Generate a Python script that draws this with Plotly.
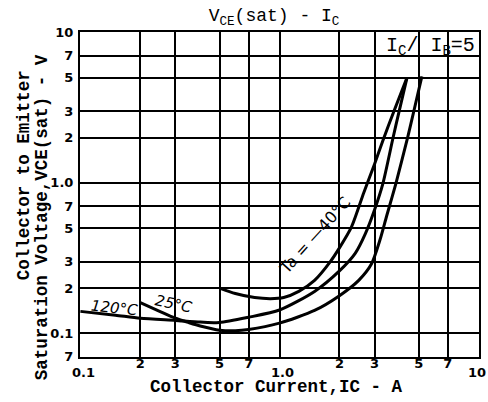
import math
import plotly.graph_objects as go

# ---- data ----
ic_m40 = [0.5, 0.6, 0.75, 0.9, 1.05, 1.25, 1.5, 1.8, 2.0, 2.3, 2.65, 3.0, 3.3, 3.76, 4.37]
vce_m40 = [0.2, 0.184, 0.173, 0.170, 0.173, 0.19, 0.225, 0.30, 0.37, 0.51, 0.86, 1.33, 1.9, 3.0, 5.0]

ic_120 = [0.1, 0.15, 0.2, 0.3, 0.4, 0.5, 0.7, 1.0, 1.5, 2.0, 2.4, 2.7, 3.0, 3.3, 3.72, 3.98, 4.37]
vce_120 = [0.14, 0.132, 0.126, 0.122, 0.119, 0.118, 0.128, 0.143, 0.19, 0.26, 0.34, 0.46, 0.66, 0.98, 2.0, 2.95, 5.0]

ic_25 = [0.2, 0.25, 0.3, 0.35, 0.4, 0.5, 0.6, 0.7, 1.0, 1.5, 2.0, 2.5, 2.9, 3.2, 3.45, 3.85, 4.4, 4.73, 5.19]
vce_25 = [0.16, 0.14, 0.126, 0.118, 0.112, 0.105, 0.104, 0.106, 0.117, 0.142, 0.178, 0.225, 0.29, 0.42, 0.6, 1.0, 2.0, 3.0, 5.1]

x_tickvals = [0.2, 0.3, 0.5, 0.7, 2, 3, 5, 7]
x_ticktext = ["2", "3", "5", "7", "2", "3", "5", "7"]
x_decade_vals = [0.1, 1, 10]
x_decade_text = ["0.1", "1.0", "10"]
x_decade_shift = [3, 3, -2]
y_tickvals = [0.07, 0.1, 0.2, 0.3, 0.5, 0.7, 1, 2, 3, 5, 7, 10]
y_ticktext = ["7", "0.1", "2", "3", "5", "7", "1.0", "2", "3", "5", "7", "10"]

x_min, x_max = 0.1, 10
y_min, y_max = 0.07, 10

title_text = "V<sub>CE</sub>(sat) - I<sub>C</sub>"
x_title = "Collector Current,IC - A"
y_title_1 = "Collector to Emitter"
y_title_2 = "Saturation Voltage,VCE(sat) - V"
ratio_label = "I<sub>C</sub>/ I<sub>B</sub>=5"

# ---- figure ----
fig = go.Figure()
line_style = dict(color="black", width=3, shape="spline", smoothing=0.7)
for xs, ys, name in [(ic_m40, vce_m40, "-40°C"), (ic_120, vce_120, "120°C"), (ic_25, vce_25, "25°C")]:
    fig.add_trace(go.Scatter(x=xs, y=ys, mode="lines", line=line_style, name=name,
                             showlegend=False, hoverinfo="skip"))

lx0, lx1 = math.log10(x_min), math.log10(x_max)
ly0, ly1 = math.log10(y_min), math.log10(y_max)
pad = 0.002

tick_font = dict(family="DejaVu Sans", size=13, color="black", weight="bold")
fig.update_xaxes(type="log", range=[lx0 - pad, lx1 + pad], tickvals=x_tickvals, ticktext=x_ticktext,
                 showgrid=True, gridcolor="black", gridwidth=1.6, showline=True, linecolor="black",
                 linewidth=2, mirror=True, ticks="", tickfont=tick_font, ticklabelstandoff=-7,
                 minor=dict(tickvals=x_decade_vals, showgrid=True, gridcolor="black", gridwidth=1.6, ticks=""))
fig.update_yaxes(type="log", range=[ly0 - pad, ly1 + pad], tickvals=y_tickvals, ticktext=y_ticktext,
                 showgrid=True, gridcolor="black", gridwidth=1.6, showline=True, linecolor="black",
                 linewidth=2, mirror=True, ticks="", tickfont=tick_font, ticklabelstandoff=2)

def px(v):
    return (math.log10(v) - lx0) / (lx1 - lx0)

def py(v):
    return (math.log10(v) - ly0) / (ly1 - ly0)

# white box behind the Ic/Ib label (hides grid there)
fig.add_shape(type="rect", xref="paper", yref="paper", x0=px(3.06), x1=1, y0=py(7.15), y1=1,
              fillcolor="white", line=dict(width=0), layer="below")

mono_bold = dict(family="Liberation Mono", size=17.5, color="black", weight="bold")
ann = []
for v, t, s in zip(x_decade_vals, x_decade_text, x_decade_shift):
    ann.append(dict(x=math.log10(v), xref="x", y=-15 / 325, yref="paper", text=t, showarrow=False,
                    font=tick_font, xanchor="center", yanchor="middle", xshift=s))
ann.append(dict(x=(277 - 80) / 401, y=-(387 - 357) / 325, xref="paper", yref="paper", text=x_title,
                showarrow=False, font=mono_bold, xanchor="center", yanchor="middle"))
ann.append(dict(x=(24 - 80) / 401, y=(357 - 175) / 325, xref="paper", yref="paper", text=y_title_1,
                showarrow=False, font=mono_bold, textangle=-90, xanchor="center", yanchor="middle"))
ann.append(dict(x=(42 - 80) / 401, y=(357 - 217) / 325, xref="paper", yref="paper", text=y_title_2,
                showarrow=False, font=mono_bold, textangle=-90, xanchor="center", yanchor="middle"))
ann.append(dict(x=math.log10(5.7), y=math.log10(8.1), xref="x", yref="y", text=ratio_label,
                showarrow=False, font=dict(family="Liberation Mono", size=20, color="black")))
ann.append(dict(x=math.log10(1.5), y=math.log10(0.45), xref="x", yref="y", text="Ta = —40°C",
                showarrow=False, textangle=-48, font=dict(family="DejaVu Sans", size=16, color="black")))
ann.append(dict(x=math.log10(0.148), y=math.log10(0.148), xref="x", yref="y", text="<i>120°C</i>",
                showarrow=False, textangle=6, font=dict(family="DejaVu Sans", size=15, color="black")))
ann.append(dict(x=math.log10(0.295), y=math.log10(0.157), xref="x", yref="y", text="<i>25°C</i>",
                showarrow=False, textangle=12, font=dict(family="DejaVu Sans", size=15, color="black")))

fig.update_layout(
    width=488, height=402,
    margin=dict(l=80, r=7, t=32, b=45),
    paper_bgcolor="white", plot_bgcolor="white",
    title=dict(text=title_text, x=(275 - 80) / 401, xref="paper", xanchor="center",
               y=1 - 15 / 402, yref="container", yanchor="middle",
               font=dict(family="Liberation Mono", size=18, color="black")),
    annotations=ann,
    showlegend=False,
)

fig.write_html("out.html", config={"displayModeBar": False},
               post_script="document.body.style.margin='0px';")
